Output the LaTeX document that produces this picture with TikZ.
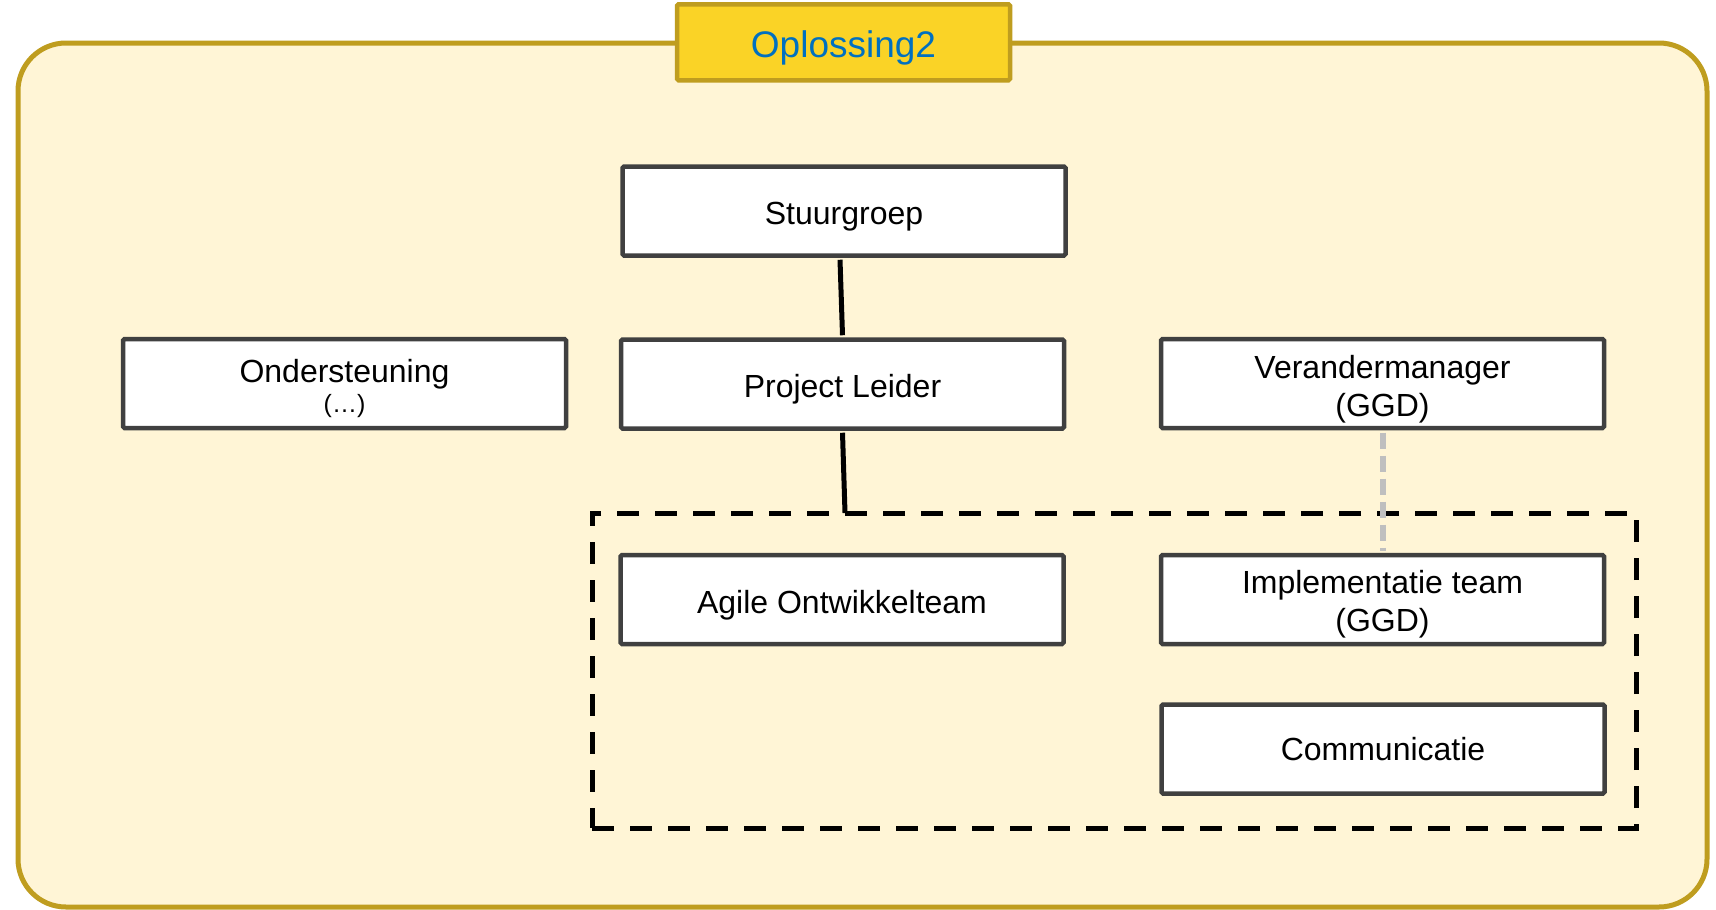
\documentclass[tikz,border=0pt]{standalone}
\usepackage{fontspec}
\setmainfont{Liberation Sans}
\definecolor{framefill}{HTML}{FFF5D6}
\definecolor{framegold}{HTML}{BF9D1F}
\definecolor{titlefill}{HTML}{FAD326}
\definecolor{titleblue}{HTML}{0070C0}
\definecolor{boxline}{HTML}{404040}
\definecolor{linkgray}{HTML}{BFBFBF}
\begin{document}
\begin{tikzpicture}[x=1pt,y=-1pt,
  orgbox/.style={draw=boxline, line width=4.5pt, fill=white, rectangle, rounded corners=1.5pt,
    minimum width=443pt, minimum height=89pt, inner sep=0pt},
  boxtext/.style={inner sep=0pt, align=center, font=\fontsize{32}{38.4}\selectfont},
  titlebox/.style={draw=framegold, line width=4.5pt, fill=titlefill, rectangle, rounded corners=1.5pt,
    minimum width=333pt, minimum height=76pt, inner sep=0pt},
  titletext/.style={inner sep=0pt, text=titleblue, font=\fontsize{37}{44}\selectfont},
  groupbox/.style={draw=black, line width=5pt, dash pattern=on 22pt off 16pt, rectangle,
    minimum width=1044pt, minimum height=315pt, inner sep=0pt},
  solidlink/.style={draw=black, line width=5pt},
  graylink/.style={draw=linkgray, line width=6pt, dash pattern=on 16pt off 7pt}
]
\useasboundingbox (0,0) rectangle (1716,910);
% outer frame
\draw[draw=framegold, fill=framefill, line width=5pt, rounded corners=48pt] (18,43) rectangle (1707,907);
% title
\node[titlebox, label={[titletext, yshift=-5.5pt, name=tT]center:Oplossing2}] (title) at (843.5,42.3) {};
% dashed group
\node[groupbox] (grp) at (1114,670.5) {};
% boxes
\node[orgbox, label={[boxtext, yshift=-5.5pt, name=tS]center:Stuurgroep}] (S) at (844,211) {};
\node[orgbox, label={[boxtext, yshift=-5.5pt, name=tPL]center:Project Leider}] (PL) at (842.5,384) {};
\node[orgbox, label={[boxtext, yshift=-5pt, name=tO]center:Ondersteuning\\[-9pt]{\fontsize{25}{30}\selectfont (…)}}] (O) at (344.5,383.5) {};
\node[orgbox, label={[boxtext, yshift=-5.5pt, name=tV]center:Verandermanager\\(GGD)}] (V) at (1382.5,383.5) {};
\node[orgbox, label={[boxtext, yshift=-5.5pt, name=tA]center:Agile Ontwikkelteam}] (A) at (842,599.5) {};
\node[orgbox, label={[boxtext, yshift=-5pt, name=tI]center:Implementatie team\\(GGD)}] (I) at (1382.5,599.5) {};
\node[orgbox, label={[boxtext, yshift=-0.5pt, name=tC]center:Communicatie}] (C) at (1383,749) {};
% connectors
\coordinate (sbot) at ([xshift=-4pt]S.south);
\coordinate (gtop) at (845,513);
\draw[solidlink] ([yshift=-2pt]sbot) -- ([yshift=2pt]PL.north);
\draw[solidlink] ([yshift=-2pt]PL.south) -- (gtop);
\draw[graylink] ([yshift=-2.25pt]V.south) -- ([yshift=2.25pt]I.north);
\end{tikzpicture}
\end{document}
